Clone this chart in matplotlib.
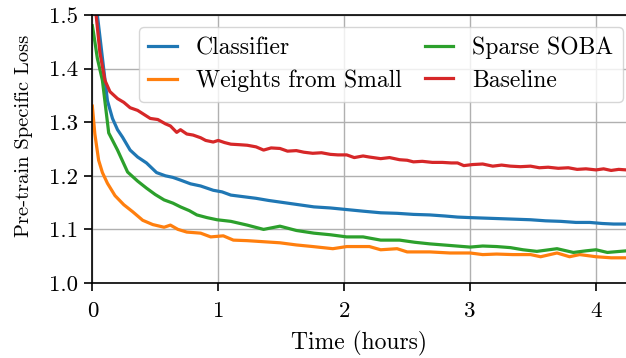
import matplotlib
matplotlib.use("Agg")
import matplotlib.pyplot as plt

plt.rcParams['font.family'] = 'serif'
plt.rcParams['font.serif'] = ['cmr10', 'DejaVu Serif']
plt.rcParams['mathtext.fontset'] = 'cm'
plt.rcParams['axes.unicode_minus'] = False
plt.rcParams['font.size'] = 16.5

# Baseline
x_base = [0, 0.03, 0.06, 0.10, 0.14, 0.20, 0.25, 0.30, 0.36, 0.42,
          0.46, 0.52, 0.58, 0.62, 0.67, 0.70, 0.75, 0.80, 0.86, 0.90,
          0.96, 1.00, 1.05, 1.10, 1.17, 1.23, 1.30, 1.36, 1.42, 1.49,
          1.55, 1.62, 1.68, 1.75, 1.82, 1.89, 1.95, 2.02, 2.08, 2.15,
          2.20, 2.29, 2.36, 2.44, 2.50, 2.55, 2.62, 2.70, 2.78, 2.85,
          2.90, 2.95, 3.02, 3.10, 3.18, 3.25, 3.32, 3.40, 3.48, 3.55,
          3.62, 3.70, 3.78, 3.85, 3.92, 4.00, 4.06, 4.12, 4.18, 4.24]
y_base = [1.62, 1.50, 1.43, 1.378, 1.357, 1.344, 1.337, 1.327, 1.322, 1.313,
          1.307, 1.305, 1.297, 1.293, 1.281, 1.286, 1.278, 1.276, 1.271, 1.266,
          1.263, 1.266, 1.262, 1.259, 1.258, 1.257, 1.254, 1.248, 1.252, 1.251,
          1.246, 1.247, 1.244, 1.242, 1.243, 1.240, 1.239, 1.239, 1.234, 1.237,
          1.235, 1.232, 1.234, 1.230, 1.229, 1.226, 1.227, 1.225, 1.225, 1.224,
          1.224, 1.219, 1.221, 1.222, 1.218, 1.220, 1.218, 1.217, 1.218, 1.215,
          1.216, 1.214, 1.215, 1.212, 1.213, 1.211, 1.213, 1.210, 1.212, 1.211]

# Classifier
x_clf = [0.00, 0.04, 0.07, 0.10, 0.12, 0.16, 0.20, 0.24, 0.30, 0.36,
         0.43, 0.51, 0.58, 0.64, 0.70, 0.78, 0.86, 0.96, 1.03, 1.10,
         1.20, 1.30, 1.40, 1.49, 1.58, 1.67, 1.76, 1.89, 2.02, 2.15,
         2.29, 2.42, 2.55, 2.68, 2.80, 2.90, 3.00, 3.12, 3.24, 3.36,
         3.48, 3.60, 3.72, 3.84, 3.95, 4.05, 4.14, 4.24]
y_clf = [1.80, 1.50, 1.44, 1.38, 1.34, 1.307, 1.286, 1.272, 1.248, 1.235,
         1.224, 1.206, 1.200, 1.197, 1.192, 1.185, 1.181, 1.173, 1.170, 1.164,
         1.161, 1.158, 1.154, 1.151, 1.148, 1.145, 1.142, 1.140, 1.137, 1.134,
         1.131, 1.130, 1.128, 1.127, 1.125, 1.123, 1.122, 1.121, 1.120, 1.119,
         1.118, 1.116, 1.115, 1.113, 1.113, 1.111, 1.110, 1.110]

# Sparse SOBA
x_soba = [0.00, 0.01, 0.04, 0.08, 0.13, 0.20, 0.28, 0.36, 0.43, 0.50,
          0.57, 0.64, 0.70, 0.77, 0.83, 0.91, 0.99, 1.10, 1.23, 1.36,
          1.49, 1.62, 1.76, 1.89, 2.02, 2.15, 2.29, 2.44, 2.56, 2.68,
          2.84, 3.00, 3.10, 3.21, 3.32, 3.42, 3.53, 3.69, 3.82, 3.92,
          4.00, 4.09, 4.24]
y_soba = [1.48, 1.466, 1.419, 1.378, 1.280, 1.248, 1.207, 1.190, 1.177, 1.165,
          1.155, 1.149, 1.142, 1.135, 1.127, 1.122, 1.118, 1.115, 1.108, 1.100,
          1.106, 1.098, 1.093, 1.090, 1.086, 1.086, 1.080, 1.080, 1.076, 1.073,
          1.070, 1.067, 1.069, 1.068, 1.066, 1.062, 1.059, 1.064, 1.057, 1.060,
          1.062, 1.057, 1.060]

# Weights from Small
x_small = [0.00, 0.02, 0.05, 0.08, 0.12, 0.18, 0.25, 0.32, 0.40, 0.48,
           0.57, 0.62, 0.68, 0.75, 0.86, 0.94, 1.04, 1.12, 1.23, 1.36,
           1.49, 1.62, 1.75, 1.91, 2.02, 2.20, 2.29, 2.42, 2.50, 2.68,
           2.84, 3.00, 3.10, 3.21, 3.34, 3.48, 3.56, 3.69, 3.79, 3.87,
           4.00, 4.12, 4.24]
y_small = [1.33, 1.278, 1.229, 1.206, 1.186, 1.163, 1.146, 1.133, 1.117, 1.109,
           1.104, 1.108, 1.100, 1.095, 1.093, 1.086, 1.088, 1.080, 1.079, 1.077,
           1.075, 1.071, 1.068, 1.064, 1.068, 1.068, 1.062, 1.064, 1.058, 1.058,
           1.056, 1.056, 1.053, 1.054, 1.053, 1.053, 1.049, 1.056, 1.049, 1.053,
           1.049, 1.047, 1.047]

fig = plt.figure(figsize=(6.26, 3.58), dpi=100)
ax = fig.add_axes([0.1475, 0.2095, 0.8525, 0.7486])

ax.plot(x_clf, y_clf, color='tab:blue', lw=2.3, label='Classifier')
ax.plot(x_small, y_small, color='tab:orange', lw=2.3, label='Weights from Small')
ax.plot(x_soba, y_soba, color='tab:green', lw=2.3, label='Sparse SOBA')
ax.plot(x_base, y_base, color='tab:red', lw=2.3, label='Baseline')

ax.set_xlim(0, 4.238)
ax.set_ylim(1.0, 1.5)
ax.set_xticks([0, 1, 2, 3, 4])
ax.set_yticks([1.0, 1.1, 1.2, 1.3, 1.4, 1.5])
ax.set_yticklabels(['1.0', '1.1', '1.2', '1.3', '1.4', '1.5'])
ax.grid(True, color='#b0b0b0', lw=1)
ax.tick_params(direction='out', length=5.5, width=1.2, pad=5)
ax.tick_params(axis='x', pad=8)
for s in ['left', 'bottom', 'top']:
    ax.spines[s].set_linewidth(1.2)
ax.spines['right'].set_visible(False)

ax.set_xlabel('Time (hours)', fontsize=17, labelpad=7)
ax.set_ylabel('Pre-train Specific Loss', fontsize=14.8)
ax.yaxis.set_label_coords(-0.112, 0.55)
ax.legend(ncol=2, loc='upper right', bbox_to_anchor=(0.994, 0.955),
          fontsize=17, columnspacing=1.0, handlelength=1.2,
          handletextpad=0.8, labelspacing=0.45, borderaxespad=0.0,
          borderpad=0.4)

fig.savefig('out.png', dpi=100)
